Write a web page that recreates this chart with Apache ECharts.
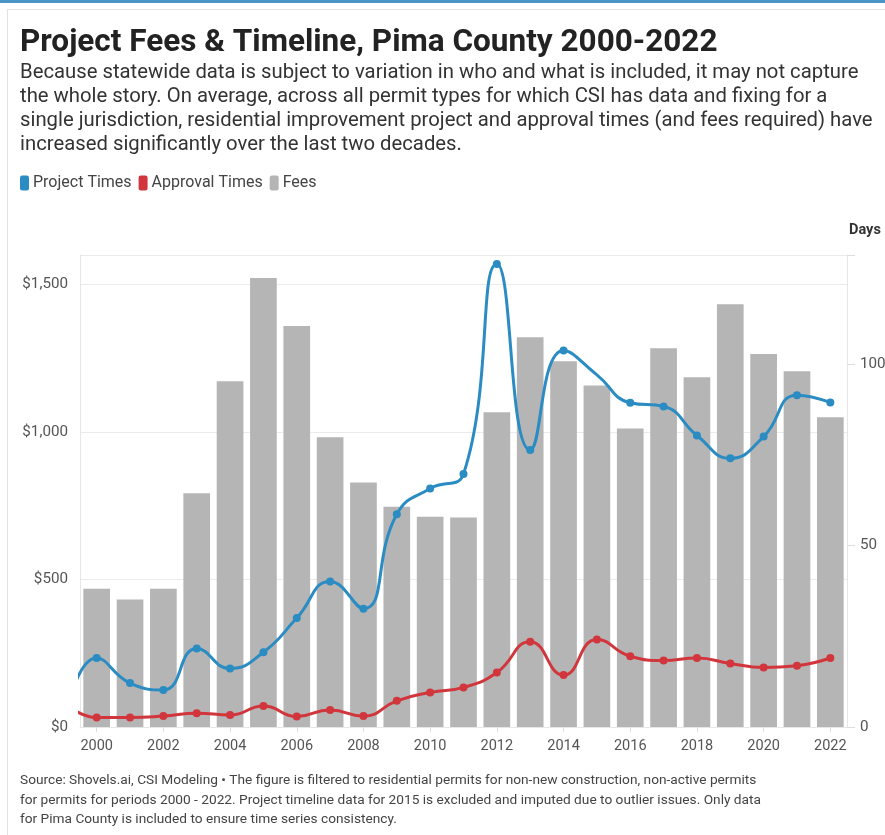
<!DOCTYPE html>
<html>
<head>
<meta charset="utf-8">
<script src="https://cdn.jsdelivr.net/npm/echarts@6/dist/echarts.min.js"></script>
<style>
html,body{margin:0;padding:0;background:#fff;}
#topbar{position:absolute;left:0;top:0;width:885px;height:3px;background:#4a95c8;}
#card{position:absolute;left:7px;top:9px;width:900px;height:900px;border-left:1px solid #e3e3e3;border-top:1px solid #e3e3e3;}
#chart{position:absolute;left:0;top:0;width:885px;height:835px;}
</style>
</head>
<body>
<div id="topbar"></div>
<div id="card"></div>
<div id="chart"></div>
<script>
const years = [2000,2001,2002,2003,2004,2005,2006,2007,2008,2009,2010,2011,2012,2013,2014,2015,2016,2017,2018,2019,2020,2021,2022];
const fees = [469,432,469,792,1172,1522,1359,982,829,747,713,710,1067,1321,1240,1158,1012,1284,1186,1433,1264,1206,1050];
const projectTimes = [19.0,12.1,10.2,21.6,16.1,20.6,30.0,40.1,32.6,58.6,65.7,69.7,127.5,76.3,103.7,97.0,89.3,88.3,80.3,74.0,80.0,91.4,89.4];
const approvalTimes = [2.6,2.6,3.0,3.8,3.3,5.8,2.9,4.7,3.0,7.2,9.5,10.9,15.0,23.5,14.3,24.1,19.5,18.3,19.0,17.5,16.4,16.9,19.0];
// values just before the visible range (line enters from the left edge)
const priorYear = 1999;
const projectPrior = 0;
const approvalPrior = 7;
const imputedYear = 2015; // project time imputed: no marker
const yLeftTicks = [0, 500, 1000, 1500];
const yRightTicks = [0, 50, 100];

const chart = echarts.init(document.getElementById('chart'));
const FONT = 'Roboto, "Noto Sans", sans-serif';

const projData = [{value:[priorYear, projectPrior], symbol:'none'}].concat(
  years.map((y,i)=> y===imputedYear ? {value:[y, projectTimes[i]], symbol:'none'} : {value:[y, projectTimes[i]]}));
const apprData = [{value:[priorYear, approvalPrior], symbol:'none'}].concat(
  years.map((y,i)=> ({value:[y, approvalTimes[i]]})));

chart.setOption({
  animation:false,
  textStyle:{fontFamily:FONT},
  title:[
    {text:'Project Fees & Timeline, Pima County 2000-2022', left:20, top:27, padding:0,
     textStyle:{fontFamily:FONT, fontSize:31.5, fontWeight:'bold', color:'#222'}},
    {text:'Because statewide data is subject to variation in who and what is included, it may not capture\nthe whole story. On average, across all permit types for which CSI has data and fixing for a\nsingle jurisdiction, residential improvement project and approval times (and fees required) have\nincreased significantly over the last two decades.',
     left:20, top:61, padding:0, textStyle:{fontFamily:FONT, fontSize:20.3, fontWeight:'normal', color:'#333', lineHeight:24}},
    {text:'Source: Shovels.ai, CSI Modeling • The figure is filtered to residential permits for non-new construction, non-active permits\nfor permits for periods 2000 - 2022. Project timeline data for 2015 is excluded and imputed due to outlier issues. Only data\nfor Pima County is included to ensure time series consistency.',
     left:20, top:771, padding:0, textStyle:{fontFamily:FONT, fontSize:13.7, fontWeight:'normal', color:'#444', lineHeight:19.5}}
  ],
  legend:{
    left:20, top:175, padding:0, itemGap:7, itemWidth:9, itemHeight:15, icon:'roundRect',
    textStyle:{fontFamily:FONT, fontSize:16, color:'#444', padding:[0,0,0,-1]},
    data:['Project Times','Approval Times','Fees']
  },
  grid:{left:80, right:38, top:255, bottom:108, containLabel:false, outerBoundsMode:'none'},
  xAxis:[
    {type:'category', data:years.map(String), boundaryGap:true,
     axisLine:{show:true, lineStyle:{color:'#e6e6e6'}},
     axisTick:{show:true, alignWithLabel:true, length:5, lineStyle:{color:'#ddd'}},
     axisLabel:{interval:1, fontSize:14.5, color:'#555', margin:12, fontFamily:FONT},
     splitLine:{show:false}},
    {type:'value', min:years[0]-0.5, max:years[years.length-1]+0.5, show:false, splitLine:{show:false}}
  ],
  yAxis:[
    {type:'value', min:yLeftTicks[0], max:1600, interval:yLeftTicks[1]-yLeftTicks[0],
     axisLine:{show:true, lineStyle:{color:'#e6e6e6'}},
     axisTick:{show:false},
     axisLabel:{fontSize:15.2, color:'#555', margin:12, fontFamily:FONT,
       formatter:v=> v>1500 ? '' : '$'+v.toLocaleString('en-US')},
     splitLine:{show:true, lineStyle:{color:'#ebebeb'}}},
    {type:'value', min:yRightTicks[0], max:130, interval:yRightTicks[1]-yRightTicks[0], position:'right',
     name:'Days', nameLocation:'end', nameGap:17,
     nameTextStyle:{fontFamily:FONT, fontSize:14.5, fontWeight:'bold', color:'#333', align:'left', padding:[0,0,0,2]},
     axisLine:{show:true, lineStyle:{color:'#e6e6e6'}},
     axisTick:{show:true, length:8, lineStyle:{color:'#ddd'}},
     axisLabel:{fontSize:15.2, color:'#555', margin:13, fontFamily:FONT, formatter:v=> v>100 ? '' : String(v)},
     splitLine:{show:false}}
  ],
  series:[
    {name:'Fees', type:'bar', xAxisIndex:0, yAxisIndex:0, data:fees, barCategoryGap:'20%',
     itemStyle:{color:'#b5b5b5'}, z:1},
    {name:'Project Times', type:'line', xAxisIndex:1, yAxisIndex:1, data:projData, smooth:0.5, clip:true,
     symbol:'circle', symbolSize:8, lineStyle:{width:3, color:'#2a8cc2'}, itemStyle:{color:'#2a8cc2'}, z:3},
    {name:'Approval Times', type:'line', xAxisIndex:1, yAxisIndex:1, data:apprData, smooth:0.5, clip:true,
     symbol:'circle', symbolSize:8, lineStyle:{width:3, color:'#d2363d'}, itemStyle:{color:'#d2363d'}, z:3}
  ]
});
</script>
</body>
</html>
